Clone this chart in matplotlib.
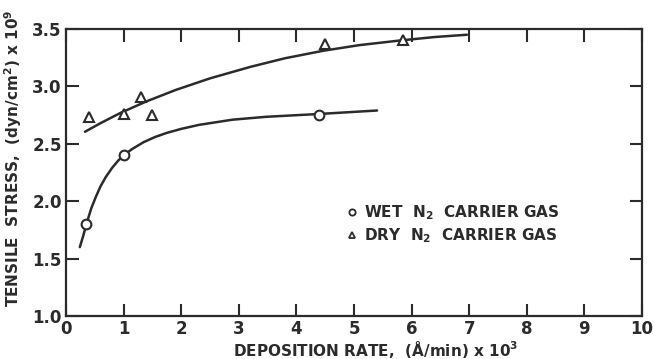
import matplotlib
matplotlib.use("Agg")
import matplotlib.pyplot as plt
from matplotlib.lines import Line2D

# measured points
wet_x = [0.35, 1.0, 4.4]
wet_y = [1.80, 2.40, 2.75]
dry_x = [0.40, 1.0, 1.3, 1.5, 4.5, 5.85]
dry_y = [2.73, 2.76, 2.91, 2.75, 3.37, 3.40]

# hand-drawn fit curves
wet_fit_x = [0.24, 0.30, 0.36, 0.44, 0.52, 0.60, 0.69, 0.80, 0.90, 1.0,
             1.15, 1.35, 1.55, 1.75, 2.0, 2.31, 2.89, 3.47, 4.4, 5.4]
wet_fit_y = [1.60, 1.70, 1.81, 1.94, 2.04, 2.13, 2.21, 2.29, 2.35, 2.40,
             2.455, 2.515, 2.56, 2.595, 2.63, 2.665, 2.71, 2.735, 2.76, 2.79]
dry_fit_x = [0.33, 0.6, 0.95, 1.4, 1.91, 2.5, 3.2, 3.8, 4.46, 5.1, 5.8, 6.4, 6.96]
dry_fit_y = [2.605, 2.68, 2.77, 2.87, 2.97, 3.07, 3.17, 3.245, 3.31, 3.36, 3.40, 3.43, 3.45]

x_ticks = list(range(0, 11))
y_ticks = [1.0, 1.5, 2.0, 2.5, 3.0, 3.5]

ink = "#2b2b2b"
plt.rcParams["font.family"] = ["DejaVu Sans"]
plt.rcParams["font.weight"] = "bold"
plt.rcParams["mathtext.default"] = "regular"

fig = plt.figure(figsize=(6.54, 3.59), dpi=100)
ax = fig.add_axes([66 / 654, 1 - 316 / 359, 576 / 654, 287 / 359])

ax.plot(wet_fit_x, wet_fit_y, color=ink, lw=1.8, solid_capstyle="round",
        solid_joinstyle="round")
ax.plot(dry_fit_x, dry_fit_y, color=ink, lw=1.8, solid_capstyle="round",
        solid_joinstyle="round")
ax.plot(wet_x, wet_y, "o", ms=7, mfc="white", mec=ink, mew=1.5)
ax.plot(dry_x, dry_y, "^", ms=7.5, mfc="white", mec=ink, mew=1.5)

ax.set_xlim(0, 10)
ax.set_ylim(1.0, 3.5)
ax.set_xticks(x_ticks)
ax.set_xticklabels([str(t) for t in x_ticks])
ax.set_yticks(y_ticks)
ax.set_yticklabels(["%.1f" % t for t in y_ticks])
ax.tick_params(direction="in", length=9, width=1.5, color=ink, labelsize=12,
               labelcolor=ink, top=True, right=True, pad=3)
for s in ax.spines.values():
    s.set_linewidth(1.6)
    s.set_color(ink)

fig.text(376 / 654, 1 - 350 / 359, "DEPOSITION RATE,  (Å/min) x 10$^3$",
         ha="center", va="center", fontsize=11, color=ink, fontweight="bold")
fig.text(13 / 654, 1 - 158 / 359, "TENSILE  STRESS,  (dyn/cm$^2$) x 10$^9$",
         ha="center", va="center", rotation=90, fontsize=11, color=ink,
         fontweight="bold")

handles = [
    Line2D([], [], ls="none", marker="o", ms=4.5, mfc="white", mec=ink, mew=1.3),
    Line2D([], [], ls="none", marker="^", ms=5, mfc="white", mec=ink, mew=1.3),
]
labels = ["WET  N$_2$  CARRIER GAS", "DRY  N$_2$  CARRIER GAS"]
ax.legend(handles, labels, loc="upper left", bbox_to_anchor=(0.475, 0.42),
          frameon=False, handlelength=0.6, handletextpad=0.5,
          fontsize=11, labelcolor=ink, borderpad=0, labelspacing=0.3)

fig.savefig("out.png", dpi=100)
